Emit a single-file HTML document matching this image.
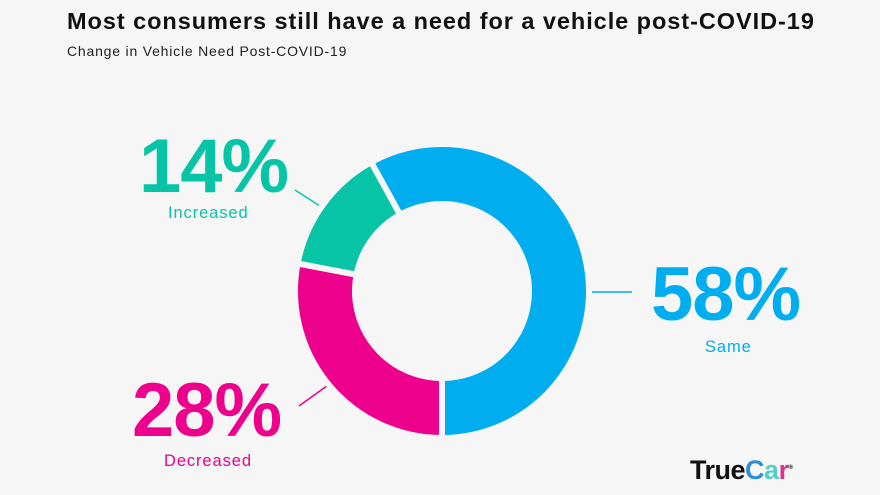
<!DOCTYPE html>
<html><head><meta charset="utf-8"><style>
html,body{margin:0;padding:0;}
body{width:880px;height:495px;background:#f6f6f6;position:relative;overflow:hidden;font-family:"Liberation Sans",sans-serif;}
.t{position:absolute;white-space:nowrap;}
.l{font-size:16.5px;letter-spacing:0.9px;}
.n{font-size:76px;font-weight:bold;letter-spacing:-1px;}
</style></head><body>
<div class="t" style="left:67px;top:8px;font-size:23.5px;font-weight:bold;color:#111;letter-spacing:0.95px;">Most consumers still have a need for a vehicle post-COVID-19</div>
<div class="t" style="left:67px;top:43px;font-size:14px;color:#222;letter-spacing:0.8px;">Change in Vehicle Need Post-COVID-19</div>
<svg width="880" height="495" style="position:absolute;left:0;top:0" id="s">
<line x1="295" y1="190" x2="323" y2="208" stroke="#08c4a6" stroke-width="1.5"/>
<line x1="586" y1="292" x2="632" y2="292" stroke="#00adee" stroke-width="1.5"/>
<line x1="299" y1="406" x2="331" y2="383" stroke="#ec008c" stroke-width="1.5"/>
<g id="d"></g>
</svg>
<div class="t n" style="left:139px;top:123px;color:#08c4a6;">14%</div>
<div class="t l" style="left:168px;top:204px;color:#08c4a6;">Increased</div>
<div class="t n" style="left:651px;top:251px;color:#00adee;">58%</div>
<div class="t l" style="left:705px;top:338px;color:#00adee;">Same</div>
<div class="t n" style="left:132px;top:367px;color:#ec008c;">28%</div>
<div class="t l" style="left:164px;top:452px;color:#ec008c;">Decreased</div>
<div class="t" style="left:690px;top:455px;font-size:27px;font-weight:bold;color:#111;letter-spacing:-0.5px;">True<span style="color:#2a8fd8">C</span><span style="color:#5cc">a</span><span style="color:#e0308c">r</span><sup style="font-size:6px;color:#111">®</sup></div>
<script>
var cx=442,cy=291,R=147,r=87,g=document.getElementById('d');
function p(a,rad){a=a*Math.PI/180;return (cx+rad*Math.sin(a)).toFixed(2)+','+(cy-rad*Math.cos(a)).toFixed(2);}
function seg(a0,a1,c){var l=(a1-a0)>180?1:0;
var d='M'+p(a0,R)+'A'+R+','+R+' 0 '+l+' 1 '+p(a1,R)+'L'+p(a1,r)+'A'+r+','+r+' 0 '+l+' 0 '+p(a0,r)+'Z';
g.innerHTML+='<path d="'+d+'" fill="'+c+'" stroke="#f6f6f6" stroke-width="6" stroke-linejoin="round"/>';}
seg(-28.8,180,'#00adee');seg(180,280.8,'#ec008c');seg(280.8,331.2,'#08c4a6');
</script>
</body></html>
